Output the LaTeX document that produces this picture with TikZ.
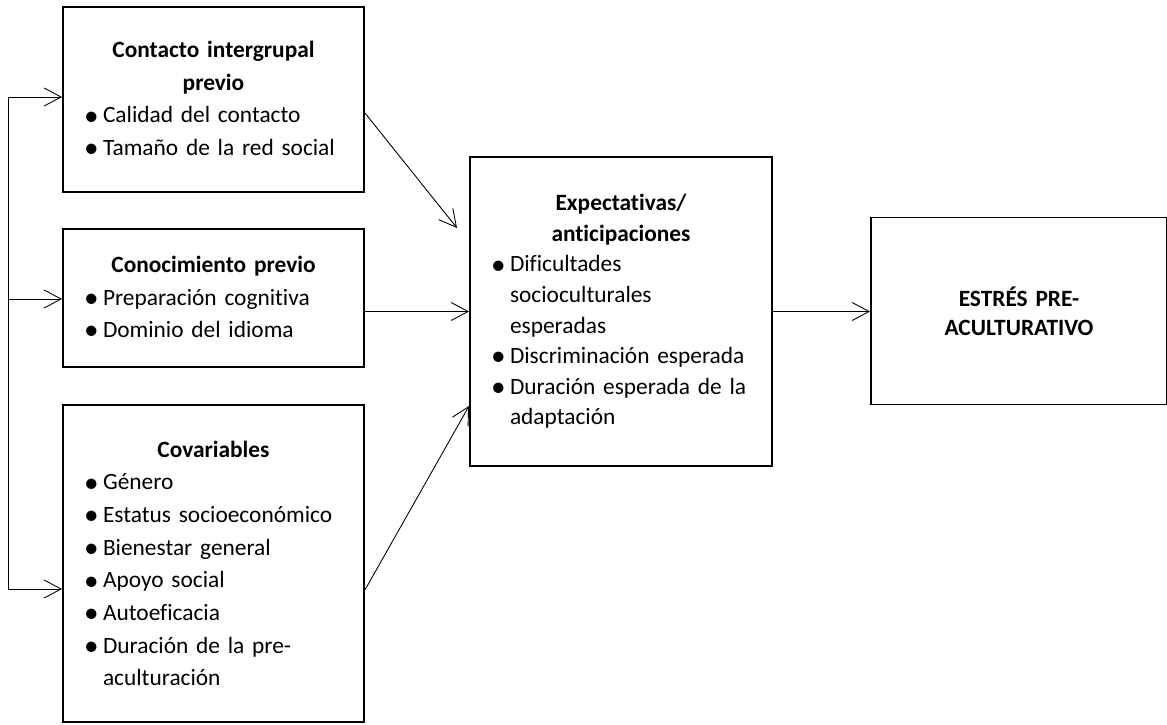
\documentclass[tikz,border=0pt]{standalone}
\usepackage{fontspec}
\setmainfont[Ligatures=NoCommon]{Carlito}
\usetikzlibrary{arrows.meta}
\tikzset{>={Straight Barb[length=0.34cm,width=0.36cm]}}
\tikzstyle{box}=[draw,line width=1.1pt,inner xsep=0.42cm,inner ysep=0pt,align=left,
  font=\fontsize{13.3}{18.6}\selectfont]
\tikzstyle{link}=[->,line width=0.5pt]
\newcommand{\ttl}[1]{\makebox[\linewidth]{\bfseries #1}}
\newcommand{\itm}{\makebox[0.38cm][l]{\raisebox{-0.2ex}{\scalebox{1.25}{\textbullet}}}}
\newcommand{\itmind}{\hspace*{0.38cm}}

\begin{document}
\begin{tikzpicture}[x=0.02cm,y=-0.02cm]
  \useasboundingbox (0,0) rectangle (1167,724);

  % INPUT BOXES
  \node[box,minimum width=6.02cm,minimum height=3.7cm,text width=5.18cm] (contact) at (213.5,99.5)
    {\ttl{Contacto intergrupal}\\ \ttl{previo}\\
     \itm Calidad del contacto\\ \itm Tamaño de la red social};
  \node[box,minimum width=6.02cm,minimum height=2.76cm,text width=5.18cm] (know) at (213.5,298)
    {\ttl{Conocimiento previo}\\ \itm Preparación cognitiva\\ \itm Dominio del idioma};
  \node[box,minimum width=6.02cm,minimum height=6.34cm,text width=5.18cm] (covar) at (213.5,563.5)
    {\ttl{Covariables}\\ \itm Género\\ \itm Estatus socioeconómico\\ \itm Bienestar general\\
     \itm Apoyo social\\ \itm Autoeficacia\\ \itm Duración de la pre-\\ \itmind aculturación};

  % MEDIATOR AND OUTCOME
  \node[box,minimum width=6.04cm,minimum height=6.18cm,text width=5.2cm,
    font=\fontsize{13.3}{17.4}\selectfont] (expect) at (621,311.5)
    {\ttl{Expectativas/}\\ \ttl{anticipaciones}\\
     \itm Dificultades\\ \itmind socioculturales\\ \itmind esperadas\\
     \itm Discriminación esperada\\ \itm Duración esperada de la\\ \itmind adaptación};
  \node[box,minimum width=5.92cm,minimum height=3.74cm,text width=5.08cm,align=center,
    font=\fontsize{13.3}{16.6}\selectfont] (stress) at (1019,311)
    {\bfseries ESTRÉS PRE-\\ \bfseries ACULTURATIVO};

  % FEEDER LINE
  \coordinate (f1) at (8,97);
  \coordinate (f2) at (8,299);
  \coordinate (f3) at (8,589);
  \draw[line width=0.5pt] (f1) -- (f3);
  \draw[link] (f1) -- (f1 -| contact.west);
  \draw[link] (f2) -- (f2 -| know.west);
  \draw[link] (f3) -- (f3 -| covar.west);

  % PATHS
  \coordinate (tipA) at (457,228);
  \draw[link] ([yshift=-0.27cm]contact.east) -- (tipA);
  \draw[link] (expect.west -| know.east) -- (expect.west);
  \draw[link] ([yshift=-0.53cm]covar.east) -- ([yshift=-1.89cm]expect.west);
  \draw[link] (expect.east) -- (expect.east -| stress.west);

\end{tikzpicture}
\end{document}
